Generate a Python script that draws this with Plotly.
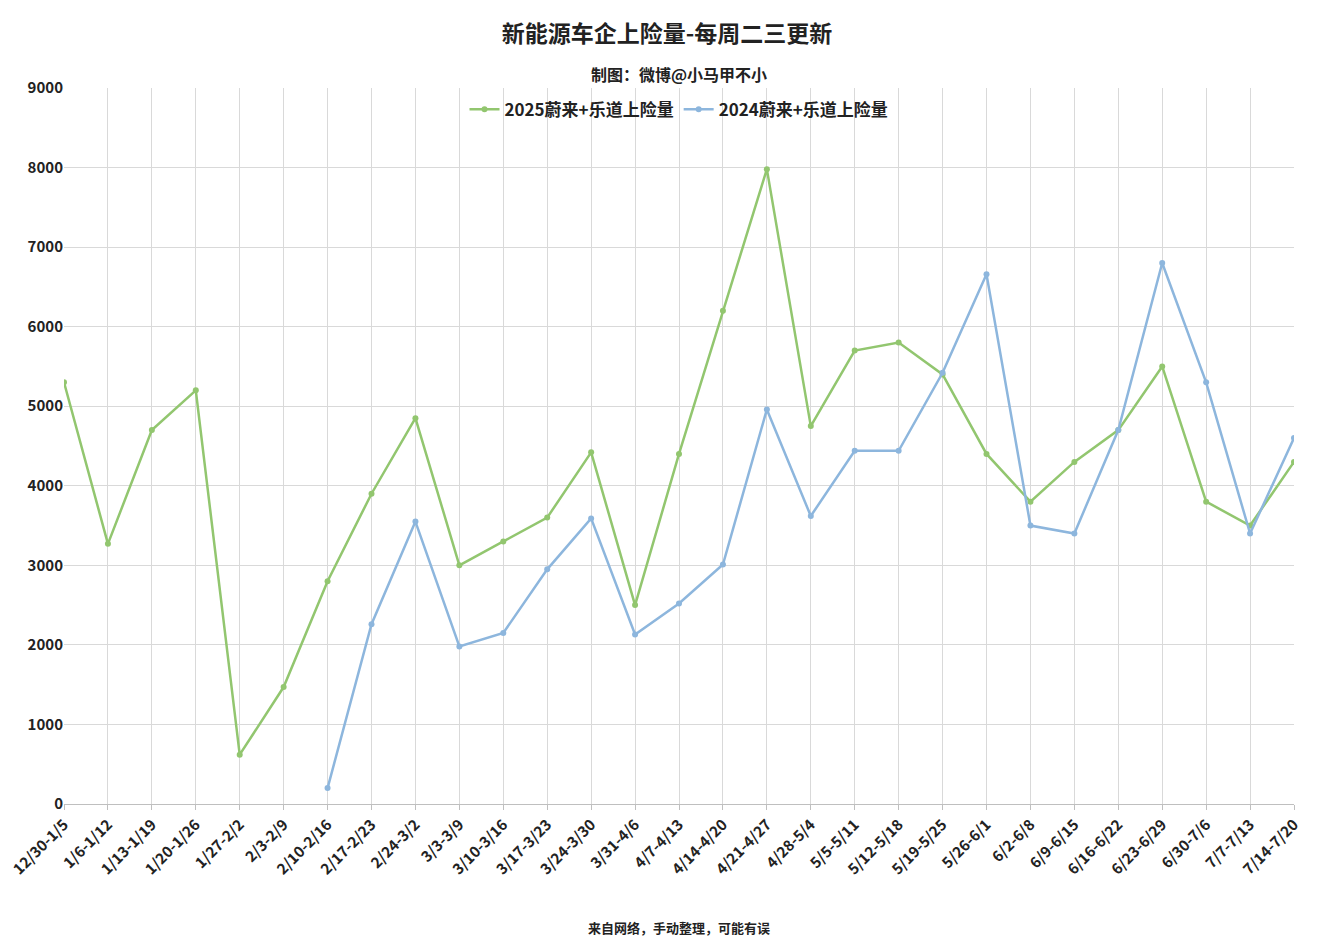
import plotly.graph_objects as go

weeks = ["12/30-1/5", "1/6-1/12", "1/13-1/19", "1/20-1/26", "1/27-2/2", "2/3-2/9", "2/10-2/16",
         "2/17-2/23", "2/24-3/2", "3/3-3/9", "3/10-3/16", "3/17-3/23", "3/24-3/30", "3/31-4/6",
         "4/7-4/13", "4/14-4/20", "4/21-4/27", "4/28-5/4", "5/5-5/11", "5/12-5/18", "5/19-5/25",
         "5/26-6/1", "6/2-6/8", "6/9-6/15", "6/16-6/22", "6/23-6/29", "6/30-7/6", "7/7-7/13", "7/14-7/20"]
ins_2025 = [5300, 3270, 4700, 5200, 620, 1470, 2800, 3900, 4850, 3000, 3300, 3600, 4420, 2500,
            4400, 6200, 7980, 4750, 5700, 5800, 5400, 4400, 3800, 4300, 4700, 5500, 3800, 3500, 4300]
ins_2024 = [None, None, None, None, None, None, 200, 2260, 3550, 1980, 2150, 2950, 3590, 2130,
            2520, 3010, 4960, 3620, 4440, 4440, 5420, 6660, 3500, 3400, 4700, 6800, 5300, 3400, 4600]

font = "Noto Sans CJK SC"
fig = go.Figure()
fig.add_trace(go.Scatter(x=weeks, y=ins_2025, name="2025蔚来+乐道上险量", mode="lines+markers",
                         line=dict(color="#92c66f", width=2.5), marker=dict(size=6)))
fig.add_trace(go.Scatter(x=weeks, y=ins_2024, name="2024蔚来+乐道上险量", mode="lines+markers",
                         line=dict(color="#8db6dd", width=2.5), marker=dict(size=6)))

fig.update_layout(
    width=1318, height=950, plot_bgcolor="white", paper_bgcolor="white",
    font=dict(family=font, color="#222", size=14),
    margin=dict(l=56, r=32, t=80, b=154),
    title=dict(text="<b>新能源车企上险量-每周二三更新</b>", x=0.5, xanchor="center",
               yref="container", y=0.973, yanchor="middle", font=dict(size=23)),
    legend=dict(orientation="h", x=0.5, xanchor="center", y=0.995, yanchor="top",
                font=dict(size=17, family=font, weight="bold"), bgcolor="rgba(0,0,0,0)"),
    xaxis=dict(showgrid=True, gridcolor="#d9d9d9", tickangle=-45, linecolor="#bfbfbf",
               tickfont=dict(size=15, weight="bold"), range=[0, 28], ticks="outside",
               tickcolor="#bfbfbf", ticklen=5, automargin=False),
    yaxis=dict(range=[0, 9000], dtick=1000, gridcolor="#d9d9d9", zeroline=False,
               tickfont=dict(size=15, weight="bold"), showline=False, automargin=False),
    annotations=[
        dict(text="<b>制图：微博@小马甲不小</b>", x=0.5, y=1, xref="paper", yref="paper",
             xanchor="center", yanchor="middle", yshift=14, showarrow=False, font=dict(size=16)),
        dict(text="<b>来自网络，手动整理，可能有误</b>", x=0.5, y=0, xref="paper", yref="paper",
             xanchor="center", yanchor="top", yshift=-112, showarrow=False, font=dict(size=13)),
    ],
)
fig.write_html("out.html")
